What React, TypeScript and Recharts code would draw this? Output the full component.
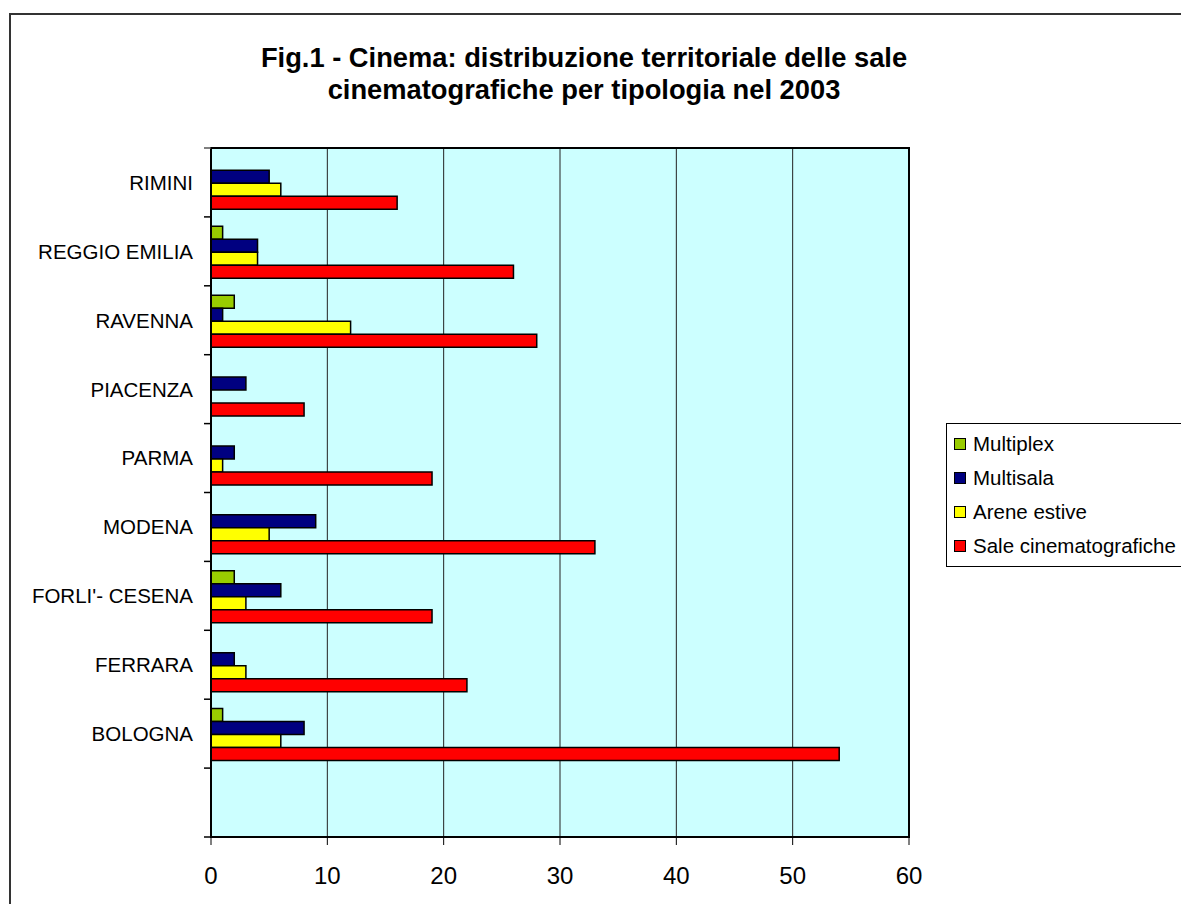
import React from "react";
import { BarChart, Bar, XAxis, YAxis, CartesianGrid, Legend, ReferenceArea } from "recharts";

const provinces = ["RIMINI", "REGGIO EMILIA", "RAVENNA", "PIACENZA", "PARMA", "MODENA", "FORLI'- CESENA", "FERRARA", "BOLOGNA", ""];
const multiplex = [0, 1, 2, 0, 0, 0, 2, 0, 1, null];
const multisala = [5, 4, 1, 3, 2, 9, 6, 2, 8, null];
const areneEstive = [6, 4, 12, 0, 1, 5, 3, 3, 6, null];
const saleCinema = [16, 26, 28, 8, 19, 33, 19, 22, 54, null];
const xTicks = [0, 10, 20, 30, 40, 50, 60];

const seriesNames = ["Multiplex", "Multisala", "Arene estive", "Sale cinematografiche"];
const seriesColors = ["#99CC00", "#000080", "#FFFF00", "#FF0000"];

const data = provinces.map((name, i) => ({
  name,
  multiplex: multiplex[i],
  multisala: multisala[i],
  arene: areneEstive[i],
  sale: saleCinema[i],
}));

const FONT = '"Liberation Sans", Arial, sans-serif';

const CatTick = (props: any) => {
  const { x, y, payload, index } = props;
  const off = payload && typeof payload.offset === "number" && payload.offset > 0 ? payload.offset : 34.4;
  return (
    <g>
      <text x={x - 18} y={y} dy="0.36em" textAnchor="end" fontSize={20.5} fill="#000" fontFamily={FONT}>
        {payload.value}
      </text>
      <line x1={x - 7} x2={x} y1={y + off} y2={y + off} stroke="#000" strokeWidth={1.5} />
      {index === 0 ? <line x1={x - 7} x2={x} y1={y - off} y2={y - off} stroke="#555" strokeWidth={1.5} /> : null}
    </g>
  );
};

const LegendContent = (props: any) => {
  const payload = [...(props.payload || [])].sort(
    (a: any, b: any) => seriesNames.indexOf(a.value) - seriesNames.indexOf(b.value)
  );
  return (
    <div
      style={{
        border: "1px solid #000",
        background: "#fff",
        width: 260,
        paddingTop: 3,
        paddingBottom: 3,
        boxSizing: "border-box",
        fontFamily: FONT,
      }}
    >
      {payload.map((p: any) => (
        <div key={p.value} style={{ height: 34, display: "flex", alignItems: "center", paddingLeft: 7 }}>
          <span
            style={{
              display: "inline-block",
              width: 10,
              height: 10,
              border: "1px solid #000",
              background: p.color,
              marginRight: 7,
            }}
          />
          <span style={{ fontSize: 20.5, color: "#000", whiteSpace: "nowrap" }}>{p.value}</span>
        </div>
      ))}
    </div>
  );
};

export default function App() {
  const keys = ["multiplex", "multisala", "arene", "sale"];
  return (
    <div
      style={{
        position: "absolute",
        left: 0,
        top: 0,
        width: 1181,
        height: 904,
        overflow: "hidden",
        background: "#fff",
        fontFamily: FONT,
      }}
    >
      <div
        style={{
          position: "absolute",
          left: 9,
          top: 13,
          width: 1400,
          height: 1200,
          borderLeft: "2px solid #333",
          borderTop: "2px solid #333",
        }}
      />
      <div
        style={{
          position: "absolute",
          left: 184,
          top: 42,
          width: 800,
          textAlign: "center",
          fontWeight: "bold",
          fontSize: 27.3,
          lineHeight: "32px",
          color: "#000",
        }}
      >
        Fig.1 - Cinema: distribuzione territoriale delle sale
        <br />
        cinematografiche per tipologia nel 2003
      </div>
      <BarChart
        width={1181}
        height={904}
        data={data}
        layout="vertical"
        margin={{ top: 148, right: 272, bottom: 27, left: 11 }}
        barCategoryGap="13.6%"
        barGap={0}
      >
        <CartesianGrid horizontal={false} vertical={true} stroke="#222" strokeWidth={1} fill="#CCFFFF" fillOpacity={1} />
        <XAxis
          type="number"
          domain={[0, 60]}
          ticks={xTicks}
          interval={0}
          height={40}
          axisLine={{ stroke: "#000", strokeWidth: 2 }}
          tickLine={{ stroke: "#000", strokeWidth: 1 }}
          tickSize={8}
          tickMargin={22}
          tick={{ fontSize: 24, fill: "#000", fontFamily: FONT }}
        />
        <YAxis
          type="category"
          dataKey="name"
          width={200}
          interval={0}
          axisLine={{ stroke: "#000", strokeWidth: 2 }}
          tickLine={false}
          tickSize={0}
          tickMargin={0}
          tick={<CatTick />}
        />
        {keys.map((k, i) => (
          <Bar
            key={k}
            dataKey={k}
            name={seriesNames[i]}
            fill={seriesColors[i]}
            stroke="#000"
            strokeWidth={1.5}
            isAnimationActive={false}
          />
        ))}
        <ReferenceArea x1={0} x2={60} stroke="#000" strokeWidth={2} fill="none" fillOpacity={0} />
        <Legend
          layout="vertical"
          align="center"
          verticalAlign="middle"
          content={<LegendContent />}
          wrapperStyle={{ left: 946, top: 423, width: 260, right: "auto", bottom: "auto", margin: 0 }}
        />
      </BarChart>
    </div>
  );
}
